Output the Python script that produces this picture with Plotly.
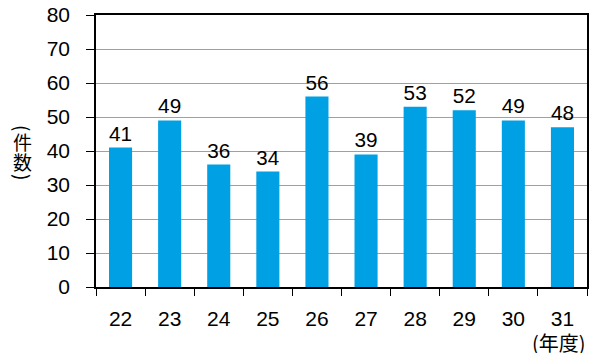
import plotly.graph_objects as go

years = ["22", "23", "24", "25", "26", "27", "28", "29", "30", "31"]
counts = [41, 49, 36, 34, 56, 39, 53, 52, 49, 47]
count_labels = ["41", "49", "36", "34", "56", "39", "53", "52", "49", "48"]
y_ticks = [0, 10, 20, 30, 40, 50, 60, 70, 80]

font = "Liberation Sans, Arial, sans-serif"
cjk = "Noto Sans CJK JP"

fig = go.Figure()
fig.add_trace(go.Bar(x=years, y=counts,
                     text=count_labels,
                     textposition="outside",
                     cliponaxis=False,
                     textfont=dict(size=21, color="black", family=font),
                     marker_color="#00A0E4",
                     marker_line_width=0,
                     width=0.47))

fig.update_layout(width=592, height=353,
                  margin=dict(l=96, r=5, t=15, b=66),
                  plot_bgcolor="white", paper_bgcolor="white",
                  showlegend=False,
                  font=dict(family=font, size=21, color="black"),
                  uniformtext=dict(mode=False))

fig.update_xaxes(type="category", tickson="boundaries",
                 ticks="outside", ticklen=7, tickcolor="black",
                 showline=True, linecolor="black", linewidth=1.5, mirror=True,
                 showgrid=False, ticklabelstandoff=12, automargin=False,
                 tickfont=dict(size=21))
fig.update_yaxes(range=[0, 80], tickvals=y_ticks,
                 ticks="outside", ticklen=8, tickcolor="black",
                 showline=True, linecolor="black", linewidth=1.5, mirror=True,
                 showgrid=True, gridcolor="#a0a0a0", gridwidth=1,
                 zeroline=False, ticklabelstandoff=12, automargin=False,
                 tickfont=dict(size=21))

# vertical y-axis title: upright characters, parentheses turned sideways
ytitle = [("(", 90, 0.585), ("件", 0, 0.535), ("数", 0, 0.46), (")", 90, 0.405)]
for ch, ang, yp in ytitle:
    fig.add_annotation(text=ch, textangle=ang, xref="paper", yref="paper",
                       x=-0.149, y=yp, showarrow=False,
                       xanchor="center", yanchor="middle",
                       font=dict(size=19, family=cjk))

fig.add_annotation(text="(年度)", xref="paper", yref="paper",
                   x=1.003, y=-0.203, showarrow=False,
                   xanchor="right", yanchor="middle",
                   font=dict(size=20, family=cjk))

# drop the browser's default 8px body margin so the figure fills the window
fig.write_html("out.html", config={"displayModeBar": False},
               post_script="document.body.style.margin='0';")
